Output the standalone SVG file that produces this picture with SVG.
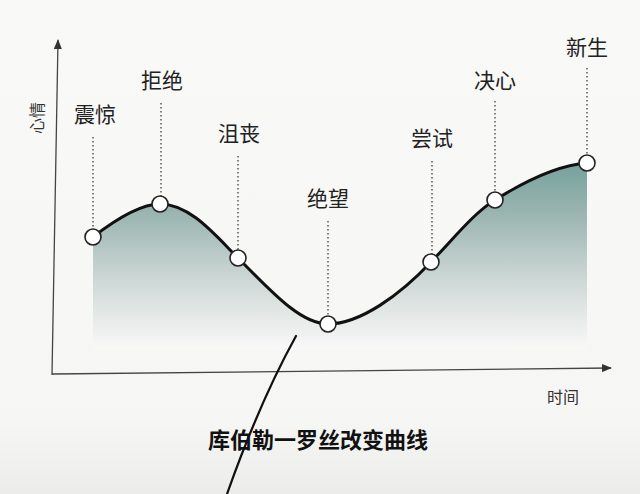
<svg xmlns="http://www.w3.org/2000/svg" width="640" height="494" viewBox="0 0 640 494">
  <style>
    .lbl { font-family: "Noto Sans CJK SC", "Noto Sans", sans-serif; font-size: 21px; fill: #222; text-anchor: middle; }
    .ax { font-family: "Noto Sans CJK SC", "Noto Sans", sans-serif; font-size: 16px; fill: #333; text-anchor: middle; }
    .title { font-family: "Noto Sans CJK SC", "Noto Sans", sans-serif; font-size: 22px; font-weight: bold; fill: #111; text-anchor: middle; }
    .dot { stroke: #333; stroke-width: 1.2; stroke-dasharray: 1.5 2.5; fill: none; }
    .pt { fill: #fff; stroke: #222; stroke-width: 1.6; }
    .axis { stroke: #444; stroke-width: 1.3; fill: none; }
  </style>
  <defs>
    <linearGradient id="shade" gradientUnits="userSpaceOnUse" x1="0" y1="160" x2="0" y2="348">
      <stop offset="0" stop-color="#74a09b"/>
      <stop offset="0.3" stop-color="#9db6b2"/>
      <stop offset="0.65" stop-color="#cfd9d7"/>
      <stop offset="1" stop-color="#f8f8f7"/>
    </linearGradient>
    <linearGradient id="page" x1="0" y1="0" x2="0" y2="1">
      <stop offset="0" stop-color="#f9f9f8"/>
      <stop offset="0.85" stop-color="#f6f6f4"/>
      <stop offset="1" stop-color="#ececea"/>
    </linearGradient>
    <marker id="arr" markerWidth="10" markerHeight="8" refX="9" refY="4" orient="auto" markerUnits="userSpaceOnUse">
      <path d="M0,0 L10,4 L0,8 Z" fill="#333"/>
    </marker>
  </defs>
  <rect width="640" height="494" fill="url(#page)"/>

  <g id="axes">
    <line class="axis" x1="52" y1="375" x2="58" y2="40" marker-end="url(#arr)"/>
    <line class="axis" x1="52" y1="374" x2="611" y2="368" marker-end="url(#arr)"/>
    <text class="ax" transform="translate(37,118) rotate(-90)" dy="6">心情</text>
    <text class="ax" x="563" y="403">时间</text>
  </g>

  <g id="area">
    <path d="M93,237 C115,220 140,204 160,204 C190,204 215,235 238,258 C270,290 300,324 328,324 C360,324 400,295 431,262 C455,237 475,212 495,200 C530,178 560,165 587,163 L587,350 L93,350 Z" fill="url(#shade)"/>
  </g>

  <g id="connectors">
    <path d="M93,237 C115,220 140,204 160,204 C190,204 215,235 238,258 C270,290 300,324 328,324 C360,324 400,295 431,262 C455,237 475,212 495,200 C530,178 560,165 587,163" fill="none" stroke="#111" stroke-width="3"/>
    <line class="dot" x1="93" y1="137" x2="93" y2="229"/>
    <line class="dot" x1="161" y1="103" x2="161" y2="196"/>
    <line class="dot" x1="238" y1="156" x2="238" y2="250"/>
    <line class="dot" x1="328" y1="221" x2="328" y2="316"/>
    <line class="dot" x1="432" y1="161" x2="432" y2="254"/>
    <line class="dot" x1="495" y1="101" x2="495" y2="192"/>
    <line class="dot" x1="587" y1="68" x2="587" y2="155"/>
  </g>

  <g id="n-zhenjing"><circle class="pt" cx="93" cy="237" r="8"/><text class="lbl" x="95" y="122">震惊</text></g>
  <g id="n-jujue"><circle class="pt" cx="160" cy="204" r="8"/><text class="lbl" x="162" y="88">拒绝</text></g>
  <g id="n-jusang"><circle class="pt" cx="238" cy="258" r="8"/><text class="lbl" x="239" y="141">沮丧</text></g>
  <g id="n-juewang"><circle class="pt" cx="328" cy="324" r="8"/><text class="lbl" x="328" y="206">绝望</text></g>
  <g id="n-changshi"><circle class="pt" cx="431" cy="262" r="8"/><text class="lbl" x="432" y="146">尝试</text></g>
  <g id="n-juexin"><circle class="pt" cx="495" cy="200" r="8"/><text class="lbl" x="495" y="88">决心</text></g>
  <g id="n-xinsheng"><circle class="pt" cx="587" cy="163" r="8"/><text class="lbl" x="587" y="55">新生</text></g>

  <text class="title" x="318" y="448">库伯勒一罗丝改变曲线</text>

  <path d="M296,336 C280,365 255,415 227,494" fill="none" stroke="#111" stroke-width="2.2" stroke-linecap="round"/>
</svg>
